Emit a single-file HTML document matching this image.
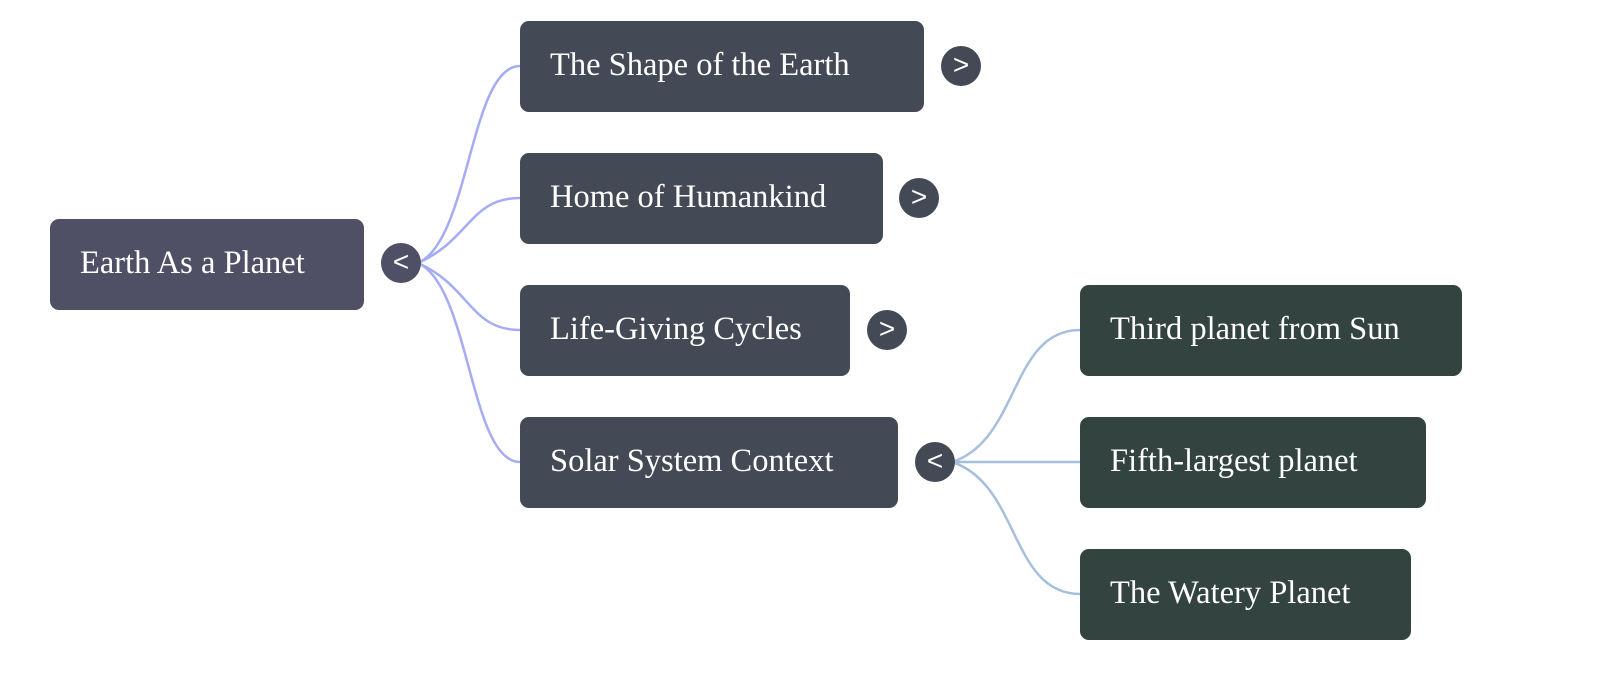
<!DOCTYPE html>
<html><head><style>
body{margin:0;width:1600px;height:676px;background:#fff;position:relative;overflow:hidden;font-family:"Liberation Serif",serif;}
.b{position:absolute;border-radius:9px;color:#fff;font-size:32.5px;line-height:88px;height:91px;box-sizing:border-box;padding-left:30px;white-space:nowrap}
.r{background:#4f5066}.l{background:#434a55}.g{background:#33433f}
.c{position:absolute;width:40px;height:40px;border-radius:50%;color:#fff;font-family:"Liberation Sans",sans-serif;font-size:28px;line-height:38px;text-align:center}
svg{position:absolute;left:0;top:0}
</style></head><body>
<svg width="1600" height="676" fill="none" stroke-width="2.5">
<g stroke="#a5acf4">
<path d="M418 263 C470 240 470 66 520 66"/>
<path d="M418 263 C470 240 470 198 520 198"/>
<path d="M418 263 C470 286 470 330 520 330"/>
<path d="M418 263 C470 286 470 462 520 462"/>
</g>
<g stroke="#a6bfdc">
<path d="M952 462 C1020 440 1010 330 1080 330"/>
<path d="M952 462 L1080 462"/>
<path d="M952 462 C1020 484 1010 594 1080 594"/>
</g>
</svg>
<div class="b r" style="left:50px;top:219px;width:314px">Earth As a Planet</div>
<div class="c r" style="left:381px;top:243px">&lt;</div>
<div class="b l" style="left:520px;top:21px;width:404px">The Shape of the Earth</div>
<div class="c l" style="left:941px;top:46px">&gt;</div>
<div class="b l" style="left:520px;top:153px;width:363px">Home of Humankind</div>
<div class="c l" style="left:899px;top:178px">&gt;</div>
<div class="b l" style="left:520px;top:285px;width:330px">Life-Giving Cycles</div>
<div class="c l" style="left:867px;top:310px">&gt;</div>
<div class="b l" style="left:520px;top:417px;width:378px">Solar System Context</div>
<div class="c l" style="left:915px;top:442px">&lt;</div>
<div class="b g" style="left:1080px;top:285px;width:382px">Third planet from Sun</div>
<div class="b g" style="left:1080px;top:417px;width:346px">Fifth-largest planet</div>
<div class="b g" style="left:1080px;top:549px;width:331px">The Watery Planet</div>
</body></html>
